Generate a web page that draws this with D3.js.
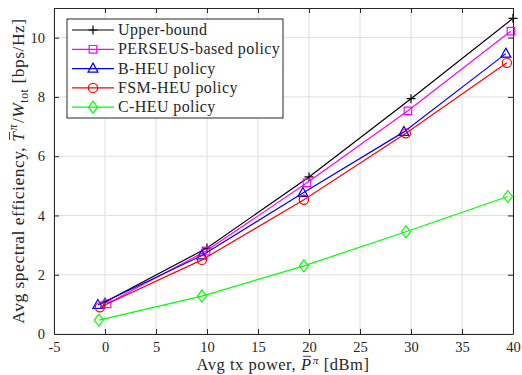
<!DOCTYPE html>
<html><head><meta charset="utf-8">
<script src="https://cdn.jsdelivr.net/npm/d3@7"></script>
<style>
body{margin:0;background:#fff;}
text{font-family:"Liberation Serif","DejaVu Serif",serif;fill:#262626;white-space:pre;}
</style></head>
<body><svg id="c" width="522" height="375"></svg>
<script>
const xTicks = [-5,0,5,10,15,20,25,30,35,40];
const yTicks = [0,2,4,6,8,10];
const seriesNames = ["Upper-bound","PERSEUS-based policy","B-HEU policy","FSM-HEU policy","C-HEU policy"];
const seriesColors = ["#000000","#ff00ff","#0000ff","#ff0000","#00ff00"];
const seriesMarkers = ["plus","square","triangle","circle","diamond"];
const upperX = [0,10,20,30,40];
const upperY = [1.08,2.9,5.3,7.94,10.65];
const perseusX = [0.2,9.9,19.8,29.7,39.8];
const perseusY = [1.02,2.8,5.1,7.53,10.22];
const bheuX = [-0.7,9.5,19.4,29.3,39.3];
const bheuY = [0.98,2.65,4.76,6.82,9.46];
const fsmX = [-0.5,9.5,19.5,29.5,39.4];
const fsmY = [0.9,2.5,4.53,6.77,9.15];
const cheuX = [-0.6,9.5,19.5,29.5,39.5];
const cheuY = [0.47,1.28,2.3,3.45,4.64];
const allX = [upperX,perseusX,bheuX,fsmX,cheuX];
const allY = [upperY,perseusY,bheuY,fsmY,cheuY];

const svg = d3.select("#c");
const L=54,R=513,T=8,B=334;
const x = d3.scaleLinear().domain([-5,40]).range([L,R]);
const y = d3.scaleLinear().domain([0,11]).range([B,T]);
const axisColor="#262626";
const tickFont = "14.5px";

// grid
const g = svg.append("g");
g.selectAll(".gx").data(xTicks).enter().append("line")
 .attr("x1",d=>x(d)).attr("x2",d=>x(d)).attr("y1",T).attr("y2",B)
 .attr("stroke","#dfdfdf").attr("stroke-width",1);
g.selectAll(".gy").data(yTicks).enter().append("line")
 .attr("y1",d=>y(d)).attr("y2",d=>y(d)).attr("x1",L).attr("x2",R)
 .attr("stroke","#dfdfdf").attr("stroke-width",1);

// axes
const ax = d3.axisBottom(x).tickValues(xTicks).tickSizeInner(-5).tickSizeOuter(0).tickPadding(8);
const ay = d3.axisLeft(y).tickValues(yTicks).tickSizeInner(-5).tickSizeOuter(0).tickPadding(9);
const gx = svg.append("g").attr("transform",`translate(0,${B})`).call(ax);
const gy = svg.append("g").attr("transform",`translate(${L},0)`).call(ay);
const gxt = svg.append("g").attr("transform",`translate(0,${T})`).call(d3.axisTop(x).tickValues(xTicks).tickSizeInner(-5).tickSizeOuter(0).tickFormat(""));
const gyr = svg.append("g").attr("transform",`translate(${R},0)`).call(d3.axisRight(y).tickValues(yTicks).tickSizeInner(-5).tickSizeOuter(0).tickFormat(""));
[gx,gy,gxt,gyr].forEach(a=>{
  a.select(".domain").attr("stroke",axisColor).attr("stroke-width",1);
  a.selectAll(".tick line").attr("stroke",axisColor);
  a.selectAll("text").style("font-family",'"Liberation Serif",serif').style("font-size",tickFont).attr("fill",axisColor);
});
gx.selectAll(".tick text").text(d=>d<0?"-"+(-d):d);

// marker drawing
function marker(sel,type,color){
  const s = sel.append("path").attr("fill","none").attr("stroke",color).attr("stroke-width",1.2);
  let p;
  if(type==="plus") p="M-4.5,0H4.5M0,-4.5V4.5";
  else if(type==="square") p="M-3.8,-3.8H3.8V3.8H-3.8Z";
  else if(type==="triangle") p="M0,-5.5L5,3.5H-5Z";
  else if(type==="circle") p="M4.6,0A4.6,4.6 0 1,1 -4.6,0A4.6,4.6 0 1,1 4.6,0Z";
  else p="M0,-6L4.5,0L0,6L-4.5,0Z";
  s.attr("d",p);
}

const line = d3.line().x(d=>x(d[0])).y(d=>y(d[1]));
[0,1,2,3,4].forEach(i=>{
  const pts = allX[i].map((v,k)=>[v,allY[i][k]]);
  svg.append("path").datum(pts).attr("d",line).attr("fill","none")
    .attr("stroke",seriesColors[i]).attr("stroke-width",1.2);
  pts.forEach(p=>{
    const m = svg.append("g").attr("transform",`translate(${x(p[0])},${y(p[1])})`);
    marker(m,seriesMarkers[i],seriesColors[i]);
  });
});

// legend
const lg = svg.append("g");
lg.append("rect").attr("x",67).attr("y",19).attr("width",216).attr("height",99)
  .attr("fill","#fff").attr("stroke",axisColor).attr("stroke-width",1);
seriesNames.forEach((n,i)=>{
  const yy = 30 + i*19.3;
  lg.append("line").attr("x1",72).attr("x2",114).attr("y1",yy).attr("y2",yy)
    .attr("stroke",seriesColors[i]).attr("stroke-width",1.2);
  const m = lg.append("g").attr("transform",`translate(93,${yy})`);
  marker(m,seriesMarkers[i],seriesColors[i]);
  lg.append("text").attr("x",118).attr("y",yy+5).style("font-size","16px")
    .style("letter-spacing","0.4px").text(n);
});

// rich label builder: pieces laid out sequentially
function richLabel(parent, pieces, size, spacing){
  const grp = parent.append("g");
  let cx = 0;
  pieces.forEach(p=>{
    const fs = p.sub||p.sup ? size*0.68 : size;
    const dy = p.sup ? -size*0.38 : (p.sub ? size*0.22 : 0);
    const t = grp.append("text").attr("x",cx).attr("y",dy)
      .style("font-size",fs+"px").style("letter-spacing",spacing+"px")
      .style("font-style",p.it?"italic":"normal").text(p.t);
    const w = t.node().getComputedTextLength();
    if(p.bar){
      grp.append("line").attr("x1",cx+2).attr("x2",cx+w-0.5)
        .attr("y1",-size*0.83).attr("y2",-size*0.83)
        .attr("stroke",axisColor).attr("stroke-width",0.9);
    }
    cx += w + (p.gap||0);
  });
  grp.selectAll("text").attr("x",function(){return +d3.select(this).attr("x") - cx/2;});
  grp.selectAll("line").each(function(){
    const l=d3.select(this); l.attr("x1",+l.attr("x1")-cx/2).attr("x2",+l.attr("x2")-cx/2);
  });
  return grp;
}

const xlg = svg.append("g").attr("transform","translate(283,370)");
richLabel(xlg,[
  {t:"Avg tx power,",gap:5},
  {t:"P",it:true,bar:true,gap:1},
  {t:"\u03c0",it:true,sup:true,gap:5},
  {t:"[dBm]"}
],16.5,0.5);

const ylg = svg.append("g").attr("transform","translate(24,171) rotate(-90)");
richLabel(ylg,[
  {t:"Avg spectral efficiency,",gap:5},
  {t:"T",it:true,bar:true,gap:1},
  {t:"\u03c0",it:true,sup:true,gap:1},
  {t:"/"},
  {t:"W",it:true},
  {t:"tot",sub:true,gap:5},
  {t:"[bps/Hz]"}
],17.5,0.5);
</script></body></html>
